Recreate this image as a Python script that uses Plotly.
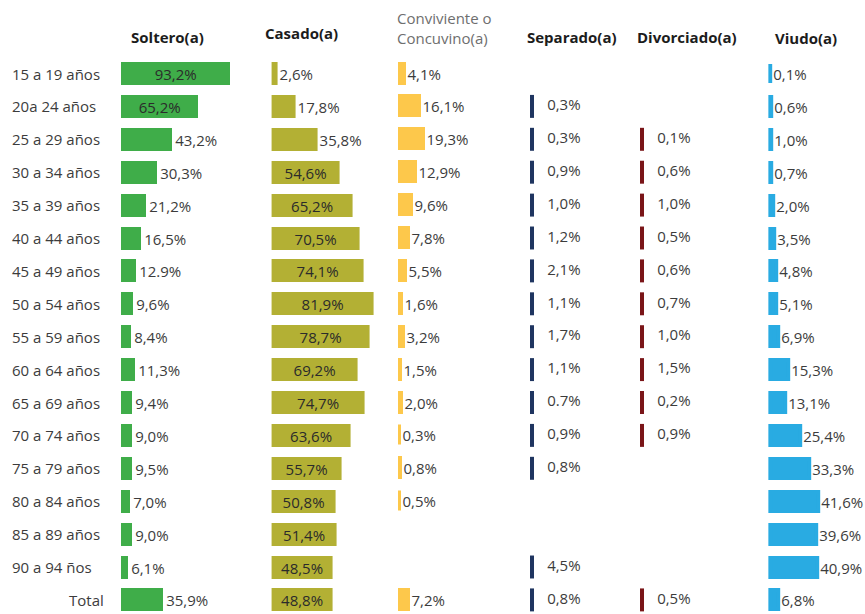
import plotly.graph_objects as go

# ---------------- data ----------------
categories = ["15 a 19 años", "20a 24 años", "25 a 29 años", "30 a 34 años",
              "35 a 39 años", "40 a 44 años", "45 a 49 años", "50 a 54 años",
              "55 a 59 años", "60 a 64 años", "65 a 69 años", "70 a 74 años",
              "75 a 79 años", "80 a 84 años", "85 a 89 años", "90 a 94 ños", "Total"]

soltero = [93.2, 65.2, 43.2, 30.3, 21.2, 16.5, 12.9, 9.6, 8.4, 11.3, 9.4, 9.0, 9.5, 7.0, 9.0, 6.1, 35.9]
casado = [2.6, 17.8, 35.8, 54.6, 65.2, 70.5, 74.1, 81.9, 78.7, 69.2, 74.7, 63.6, 55.7, 50.8, 51.4, 48.5, 48.8]
conviviente = [4.1, 16.1, 19.3, 12.9, 9.6, 7.8, 5.5, 1.6, 3.2, 1.5, 2.0, 0.3, 0.8, 0.5, None, None, 7.2]
separado = [None, 0.3, 0.3, 0.9, 1.0, 1.2, 2.1, 1.1, 1.7, 1.1, 0.7, 0.9, 0.8, None, None, 4.5, 0.8]
divorciado = [None, None, 0.1, 0.6, 1.0, 0.5, 0.6, 0.7, 1.0, 1.5, 0.2, 0.9, None, None, None, None, 0.5]
viudo = [0.1, 0.6, 1.0, 0.7, 2.0, 3.5, 4.8, 5.1, 6.9, 15.3, 13.1, 25.4, 33.3, 41.6, 39.6, 40.9, 6.8]

headers = ["Soltero(a)", "Casado(a)", "Conviviente o<br>Concuvino(a)", "Separado(a)", "Divorciado(a)", "Viudo(a)"]
# labels in the source that use a decimal point instead of a comma
dot_labels = {("soltero", 6), ("separado", 10)}

# ---------------- layout helpers ----------------
W, H = 865, 614
ROW0_PX, ROW_PX = 73.5, 32.9
FONT = "Open Sans"
TXT = "#3c3c3c"


def fmt(name, i, v):
    if v is None:
        return ""
    s = f"{v:.1f}%"
    return s if (name, i) in dot_labels else s.replace(".", ",")


def dom(zero_px, scale, lo, hi):
    return [(zero_px + lo * scale) / W, (zero_px + hi * scale) / W]


fig = go.Figure()

y_top = -ROW0_PX / ROW_PX
y_bot = y_top + H / ROW_PX


def add_bar(name, vals, color, axis, inside_idx, line_w, bar_w):
    labels = [fmt(name, i, v) for i, v in enumerate(vals)]
    pos = ["inside" if i in inside_idx else "outside" for i in range(len(vals))]
    fig.add_trace(go.Bar(
        y=categories, x=vals, orientation="h", xaxis=axis, yaxis="y",
        marker=dict(color=color, line=dict(color=color, width=line_w)),
        width=bar_w, text=labels, textposition=pos,
        insidetextanchor="middle", constraintext="none", cliponaxis=False,
        textfont=dict(family=FONT, size=15, color=TXT),
        insidetextfont=dict(family=FONT, size=15, color="#2b2b2b"),
        outsidetextfont=dict(family=FONT, size=15, color=TXT),
        hoverinfo="skip", showlegend=False,
    ))


def add_tick(name, vals, color, axis):
    ys = [c for c, v in zip(categories, vals) if v is not None]
    xs = [0 for v in vals if v is not None]
    labels = [" " + fmt(name, i, v) for i, v in enumerate(vals) if v is not None]
    fig.add_trace(go.Scatter(
        y=ys, x=xs, xaxis=axis, yaxis="y", mode="markers+text",
        marker=dict(symbol="line-ns", size=16.4, color=color,
                    line=dict(color=color, width=4)),
        text=labels, textposition="middle right",
        textfont=dict(family=FONT, size=15, color=TXT),
        cliponaxis=False, hoverinfo="skip", showlegend=False,
    ))


BW = 23 / ROW_PX
add_bar("soltero", soltero, "#3fad49", "x", {0, 1}, 0, BW)
add_bar("casado", casado, "#b3b034", "x2", set(range(3, 17)), 2, (23 - 2) / ROW_PX)
add_bar("conviviente", conviviente, "#fdc84b", "x3", set(), 3, (23 - 3) / ROW_PX)
add_tick("separado", separado, "#1f3560", "x4")
add_tick("divorciado", divorciado, "#7a1518", "x5")
add_bar("viudo", viudo, "#29abe2", "x6", set(), 4, (23 - 4) / ROW_PX)

hidden = dict(visible=False, showgrid=False, zeroline=False, fixedrange=True)
layout = dict(
    width=W, height=H, margin=dict(l=0, r=0, t=0, b=0),
    paper_bgcolor="white", plot_bgcolor="rgba(0,0,0,0)",
    barmode="overlay", bargap=0,
    yaxis=dict(type="category", categoryorder="array", categoryarray=categories,
               range=[y_bot, y_top], domain=[0, 1], **hidden),
    xaxis=dict(range=[-2, 100], domain=dom(121.5, 1.17, -2, 100), anchor="y", **hidden),
    xaxis2=dict(range=[-2, 100], domain=dom(273, 1.21, -2, 100), anchor="y", **hidden),
    xaxis3=dict(range=[-2, 50], domain=dom(399.5, 1.25, -2, 50), anchor="y", **hidden),
    xaxis4=dict(range=[-1, 10], domain=dom(532, 3, -1, 10), anchor="y", **hidden),
    xaxis5=dict(range=[-1, 10], domain=dom(642, 3, -1, 10), anchor="y", **hidden),
    xaxis6=dict(range=[-2, 75], domain=dom(770.5, 1.15, -2, 75), anchor="y", **hidden),
)
fig.update_layout(**layout)

annotations = []
# row labels
for c in categories:
    annotations.append(dict(
        text=c, xref="paper", yref="y", x=(67 if c == "Total" else 10) / W, y=c,
        xanchor="left", yanchor="middle", showarrow=False,
        font=dict(family=FONT, size=15, color=TXT)))

# column headers
head_pos = [(167, 37), (301, 33), (395, 28), (572, 37), (687, 37), (806, 38)]
for i, (h, (hx, hy)) in enumerate(zip(headers, head_pos)):
    conv = i == 2
    annotations.append(dict(
        text=h if conv else f"<b>{h}</b>", xref="paper", yref="paper",
        x=hx / W, y=1 - hy / H, xanchor="left" if conv else "center", yanchor="middle",
        align="left", showarrow=False,
        font=dict(family=FONT, size=15,
                  color="#6e6e6e" if conv else "#1c1c1c")))
fig.update_layout(annotations=annotations)

fig.write_html("out.html", config={"displayModeBar": False},
               post_script="document.body.style.margin='0';document.body.style.overflow='hidden';")
